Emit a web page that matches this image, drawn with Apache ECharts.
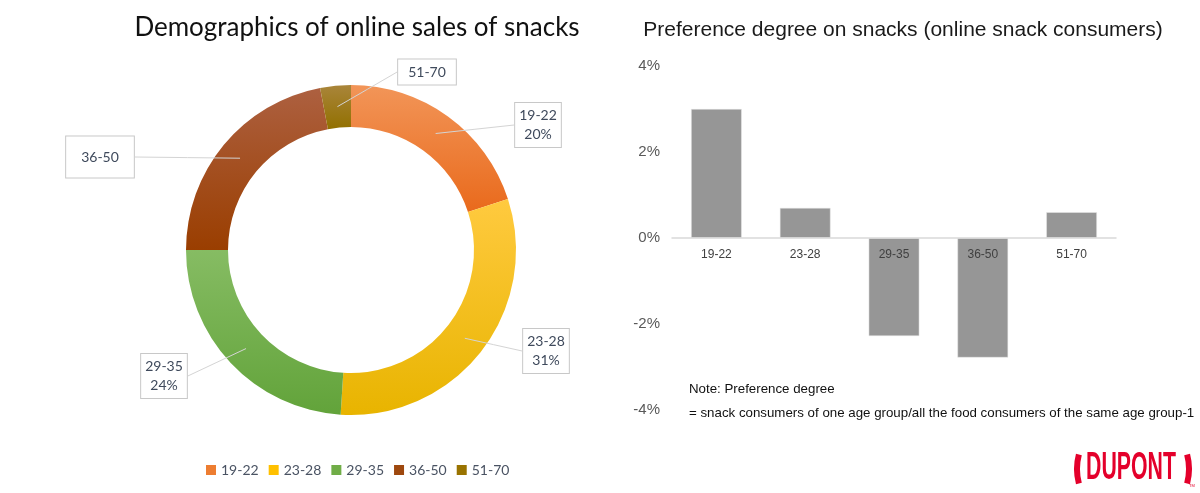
<!DOCTYPE html>
<html>
<head>
<meta charset="utf-8">
<title>Snack demographics</title>
<script src="https://cdn.jsdelivr.net/npm/echarts@6/dist/echarts.min.js"></script>
<style>
  html, body { margin: 0; padding: 0; background: #fff; }
  #main { width: 1200px; height: 493px; }
</style>
</head>
<body>
<div id="main"></div>
<script>
// data
var ageGroups = ['19-22', '23-28', '29-35', '36-50', '51-70'];
var salesShare = [20, 31, 24, 22, 3];          // % of online snack sales
var showPct = [true, true, true, false, false];  // only first three labels show the %
var preference = [3.0, 0.7, -2.28, -2.78, 0.6];  // preference degree, %
var yTicks = [-4, -2, 0, 2, 4];

// colours (top, bottom of each slice) + flat legend colours
var baseColors = ['#ED7D31', '#FFC000', '#70AD47', '#9E480E', '#997300'];
var topColors = ['#F29558', '#FFCA3F', '#86BC63', '#AD6040', '#A9853A'];
var bottomColors = ['#E96A1C', '#E8B400', '#62A33A', '#9A3E00', '#927000'];

// pie geometry and where each callout box sits
var PIE_CX = 351, PIE_CY = 250, R_IN = 123, R_OUT = 165;
var calloutPos = [[538, 125], [546, 351], [164, 376], [100, 157], [427, 72]];
var calloutPad = [[3, 4], [3, 4], [3, 4], [11, 15], [3, 10]];

// bar grid
var GRID = { left: 672, right: 84, top: 66, bottom: 83 };
var gridH = 493 - GRID.top - GRID.bottom;
var yMin = yTicks[0], yMax = yTicks[yTicks.length - 1];
// move the category axis up to the zero line
var zeroOffset = -gridH * (0 - yMin) / (yMax - yMin);

var dom = document.getElementById('main');
var myChart = echarts.init(dom, null, { renderer: 'canvas' });

var total = salesShare.reduce(function (a, b) { return a + b; }, 0);

// middle of the ring at the middle angle of slice i
function ringMid(i) {
  var before = 0;
  for (var k = 0; k < i; k++) before += salesShare[k];
  var ang = (before + salesShare[i] / 2) / total * Math.PI * 2;
  var r = (R_IN + R_OUT) / 2;
  return [PIE_CX + r * Math.sin(ang), PIE_CY - r * Math.cos(ang)];
}

var pieData = ageGroups.map(function (name, i) {
  return {
    name: name,
    value: salesShare[i],
    itemStyle: {
      color: {
        type: 'linear', x: 0, y: 0, x2: 0, y2: 1,
        colorStops: [
          { offset: 0, color: topColors[i] },
          { offset: 1, color: bottomColors[i] }
        ]
      }
    }
  };
});

// same slices again, invisible, only to carry the callouts above the ring
var calloutData = ageGroups.map(function (name, i) {
  return {
    name: name,
    value: salesShare[i],
    label: { padding: calloutPad[i] }
  };
});

var option = {
  backgroundColor: '#fff',
  animation: false,
  title: [
    {
      text: 'Demographics of online sales of snacks',
      left: 352, top: 10, textAlign: 'center',
      textStyle: { fontFamily: 'Lato', fontSize: 26, fontWeight: 'normal', color: '#111' }
    },
    {
      text: 'Preference degree on snacks (online snack consumers)',
      left: 898, top: 15, textAlign: 'center',
      textStyle: { fontFamily: 'Liberation Sans', fontSize: 21, fontWeight: 'normal', color: '#1a1a1a' }
    }
  ],
  legend: {
    left: 201, top: 458,
    itemWidth: 10, itemHeight: 10, itemGap: 10,
    icon: 'rect',
    textStyle: { fontFamily: 'Lato', fontSize: 14, color: '#4a5363' },
    data: ageGroups.map(function (n, i) {
      return { name: n, itemStyle: { color: baseColors[i] } };
    })
  },
  grid: GRID,
  xAxis: {
    type: 'category',
    data: ageGroups,
    z: 5,
    offset: zeroOffset,
    axisLine: { onZero: false, lineStyle: { color: '#d9d9d9', width: 1.5 } },
    axisTick: { show: false },
    axisLabel: { margin: 11, fontFamily: 'Liberation Sans', fontSize: 12, color: '#404040' }
  },
  yAxis: {
    type: 'value',
    min: yMin, max: yMax, interval: 2,
    axisLine: { show: false },
    axisTick: { show: false },
    splitLine: { show: false },
    axisLabel: {
      margin: 12,
      fontFamily: 'Liberation Sans', fontSize: 15, color: '#595959',
      formatter: function (v) { return v + '%'; }
    }
  },
  series: [
    {
      type: 'pie',
      center: [PIE_CX, PIE_CY],
      radius: [R_IN, R_OUT],
      startAngle: 90,
      clockwise: true,
      data: pieData,
      label: { show: false },
      labelLine: { show: false }
    },
    {
      type: 'pie',
      z: 4,
      silent: true,
      center: [PIE_CX, PIE_CY],
      radius: [R_IN, R_OUT],
      startAngle: 90,
      clockwise: true,
      data: calloutData,
      itemStyle: { color: 'rgba(0,0,0,0)' },
      label: {
        show: true,
        position: 'outside',
        formatter: function (p) {
          return showPct[p.dataIndex] ? p.name + '\n' + p.value + '%' : p.name;
        },
        fontFamily: 'Lato', fontSize: 14, lineHeight: 19,
        color: '#3f4a5c', align: 'center',
        backgroundColor: '#fff',
        borderColor: '#c8c8c8', borderWidth: 1
      },
      labelLine: { show: true, lineStyle: { color: '#d4d4d4', width: 1 } },
      labelLayout: function (params) {
        var i = params.dataIndex;
        var c = calloutPos[i];
        var w = params.labelRect.width;
        var start = ringMid(i);
        var endX = c[0] > PIE_CX ? c[0] - w / 2 : c[0] + w / 2;
        var end = [endX, c[1]];
        var mid = [(start[0] + end[0]) / 2, (start[1] + end[1]) / 2];
        return {
          x: c[0], y: c[1],
          align: 'center', verticalAlign: 'middle',
          labelLinePoints: [start, mid, end]
        };
      }
    },
    {
      type: 'bar',
      data: preference,
      barWidth: '57%',
      itemStyle: { color: '#969696', borderColor: '#e8e8e8', borderWidth: 0.5 }
    }
  ],
  graphic: [
    {
      type: 'text', left: 689, top: 383,
      style: { text: 'Note: Preference degree', font: '13.3px "Liberation Sans"', fill: '#111' }
    },
    {
      type: 'text', left: 689, top: 407,
      style: {
        text: '= snack consumers of one age group/all the food consumers of the same age group-1',
        font: '13.3px "Liberation Sans"', fill: '#111'
      }
    },
    // DuPont logo
    {
      type: 'text', x: 1131, y: 469, scaleX: 0.56,
      style: {
        text: 'DUPONT', font: 'bold 38px "Liberation Sans"', fill: '#E4002B',
        align: 'center', verticalAlign: 'middle'
      }
    },
    {
      type: 'arc', shape: { cx: 1133, cy: 469, r: 56, startAngle: -0.26, endAngle: 0.26 },
      style: { stroke: '#E4002B', lineWidth: 6, fill: null }
    },
    {
      type: 'arc', shape: { cx: 1133, cy: 469, r: 56, startAngle: Math.PI - 0.26, endAngle: Math.PI + 0.26 },
      style: { stroke: '#E4002B', lineWidth: 6, fill: null }
    },
    {
      type: 'text', x: 1189, y: 484,
      style: { text: 'TM', font: '4px "Liberation Sans"', fill: '#E4002B' }
    }
  ]
};

myChart.setOption(option);
window.addEventListener('resize', myChart.resize);
</script>
</body>
</html>
